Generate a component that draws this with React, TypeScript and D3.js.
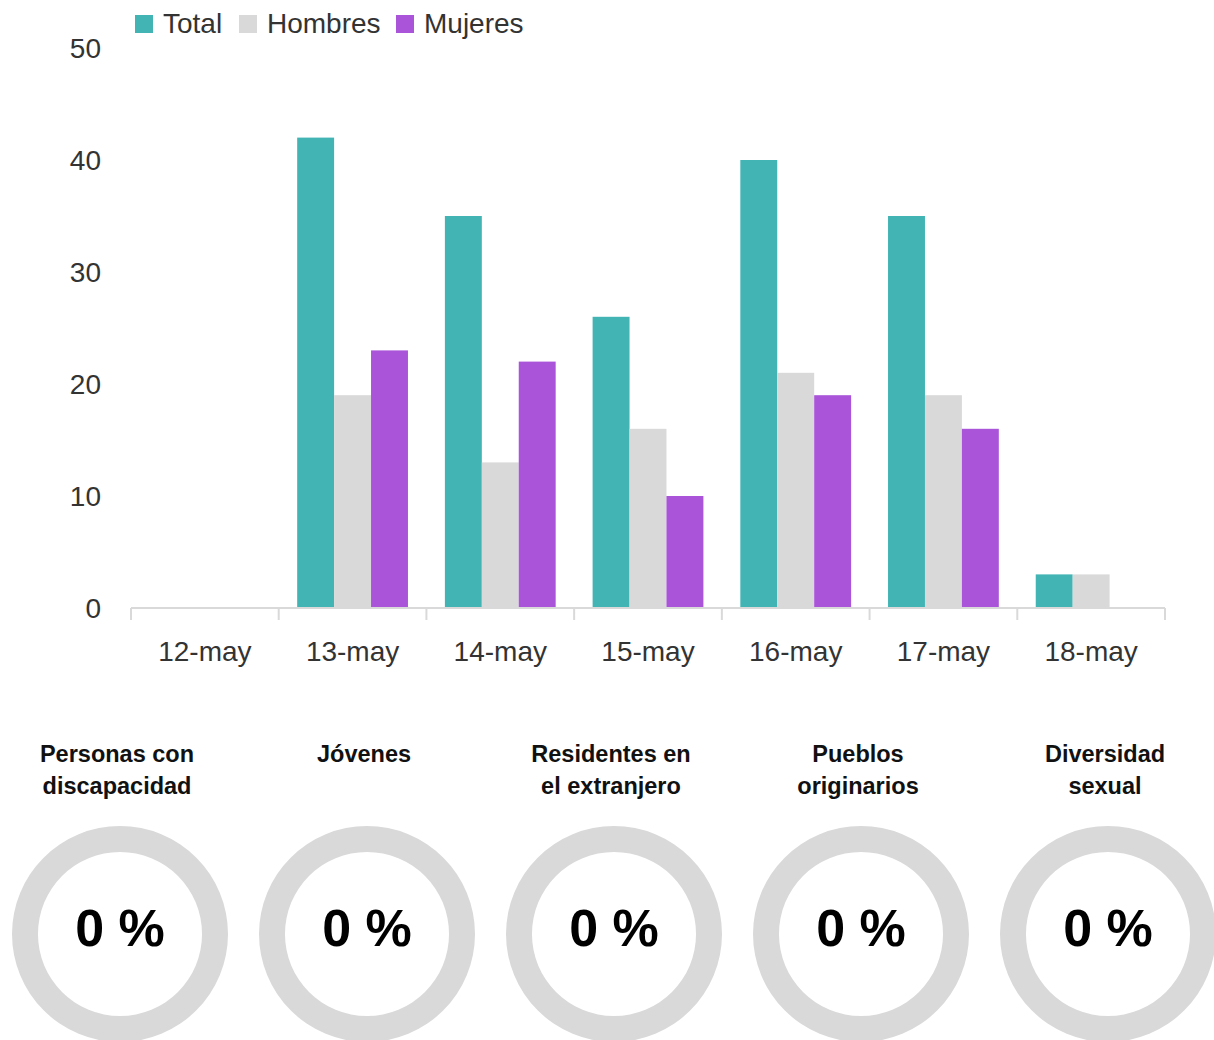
import React from "react";
import * as d3 from "d3";

const categories = ["12-may", "13-may", "14-may", "15-may", "16-may", "17-may", "18-may"];
const seriesNames = ["Total", "Hombres", "Mujeres"];
const totalValues = [0, 42, 35, 26, 40, 35, 3];
const hombresValues = [0, 19, 13, 16, 21, 19, 3];
const mujeresValues = [0, 23, 22, 10, 19, 16, 0];
const seriesColors = ["#42b4b4", "#d9d9d9", "#aa55d9"];
const yTicks = [0, 10, 20, 30, 40, 50];

const donutTitles = [
  ["Personas con", "discapacidad"],
  ["Jóvenes"],
  ["Residentes en", "el extranjero"],
  ["Pueblos", "originarios"],
  ["Diversidad", "sexual"],
];
const donutValues = [0, 0, 0, 0, 0];

const W = 1214;
const H = 1040;
const FONT = "'Liberation Sans', Arial, sans-serif";

export default function App() {
  const seriesValues = [totalValues, hombresValues, mujeresValues];
  const x = d3.scaleBand<string>().domain(categories).range([131, 1165]).padding(0);
  const xi = d3
    .scaleBand<string>()
    .domain(seriesNames)
    .range([0, x.bandwidth()])
    .paddingInner(0)
    .paddingOuter(0.5);
  const y = d3.scaleLinear().domain([0, 50]).range([608, 48]);

  const boundaries = categories.map((c) => x(c) as number).concat([x.range()[1]]);

  const donutX = d3
    .scalePoint<number>()
    .domain(donutValues.map((_, i) => i))
    .range([120, 1108]);
  const outerR = 108;
  const innerR = 82;
  const arcGen = d3.arc<any>().innerRadius(innerR).outerRadius(outerR);
  const pie = d3.pie<number>().sort(null);

  return (
    <div style={{ position: "absolute", left: 0, top: 0 }}>
      <svg width={W} height={H} style={{ display: "block", background: "#fff" }} fontFamily={FONT}>
        {/* Legend */}
        {seriesNames.map((s, i) => {
          const lx = [135, 239, 396][i];
          return (
            <g key={s}>
              <rect x={lx} y={15} width={18} height={18} fill={seriesColors[i]} />
              <text x={lx + 28} y={33} fontSize={28} fill="#333">
                {s}
              </text>
            </g>
          );
        })}

        {/* Y tick labels */}
        {yTicks.map((t) => (
          <text key={t} x={101} y={y(t)} dy="0.35em" textAnchor="end" fontSize={28} fill="#333">
            {t}
          </text>
        ))}

        {/* Bars */}
        {categories.map((c, ci) => (
          <g key={c} transform={`translate(${x(c)},0)`}>
            {seriesNames.map((s, si) => {
              const v = seriesValues[si][ci];
              if (v <= 0) return null;
              return (
                <rect
                  key={s}
                  x={xi(s)}
                  y={y(v)}
                  width={xi.bandwidth()}
                  height={y(0) - y(v)}
                  fill={seriesColors[si]}
                />
              );
            })}
          </g>
        ))}

        {/* X axis */}
        <line x1={x.range()[0]} x2={x.range()[1]} y1={y(0)} y2={y(0)} stroke="#d9d9d9" strokeWidth={2} />
        {boundaries.map((b, i) => (
          <line key={i} x1={b} x2={b} y1={y(0)} y2={y(0) + 12} stroke="#d9d9d9" strokeWidth={2} />
        ))}
        {categories.map((c) => (
          <text
            key={c}
            x={(x(c) as number) + x.bandwidth() / 2}
            y={661}
            textAnchor="middle"
            fontSize={28}
            fill="#333"
          >
            {c}
          </text>
        ))}

        {/* Donuts */}
        {donutValues.map((v, i) => {
          const cx = donutX(i) as number;
          const cy = 934;
          const arcs = pie([v, 100 - v]);
          return (
            <g key={i}>
              {donutTitles[i].map((line, li) => (
                <text
                  key={li}
                  x={cx - 3}
                  y={762 + li * 32}
                  textAnchor="middle"
                  fontSize={23.5}
                  fontWeight="bold"
                  fill="#111"
                >
                  {line}
                </text>
              ))}
              <g transform={`translate(${cx},${cy})`}>
                {arcs.map((a, ai) => (
                  <path key={ai} d={arcGen(a) as string} fill={ai === 0 ? "#42b4b4" : "#d9d9d9"} />
                ))}
                <text x={0} y={12} textAnchor="middle" fontSize={52} fontWeight="bold" fill="#000">
                  {`${v} %`}
                </text>
              </g>
            </g>
          );
        })}
      </svg>
    </div>
  );
}
